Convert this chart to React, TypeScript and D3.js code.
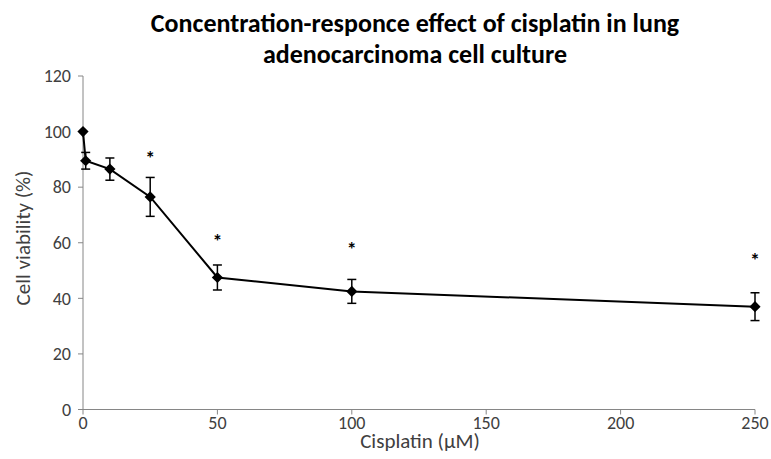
import React from "react";
import * as d3 from "d3";

const doses = [0, 1, 10, 25, 50, 100, 250];
const viability = [100, 89.5, 86.5, 76.5, 47.5, 42.5, 37];
const errors = [0, 3, 4, 7, 4.5, 4.3, 5];
const significant = [false, false, false, true, true, true, true];
const starValues = [0, 0, 0, 91.6, 61.7, 58.8, 55];
const xTicks = [0, 50, 100, 150, 200, 250];
const yTicks = [0, 20, 40, 60, 80, 100, 120];
const titleLines = ["Concentration-responce effect of cisplatin in lung", "adenocarcinoma cell culture"];

const W = 771, H = 459;
const margin = { left: 83, right: 16, top: 76, bottom: 49.5 };

export default function App() {
  const x = d3.scaleLinear().domain([0, 250]).range([margin.left, W - margin.right]);
  const y = d3.scaleLinear().domain([0, 120]).range([H - margin.bottom, margin.top]);
  const line = d3.line<number>().x((_, i) => x(doses[i])).y((v) => y(v));
  const font = "Carlito, 'Open Sans', 'Liberation Sans', sans-serif";
  const diamond = d3.symbol().type(d3.symbolDiamond2).size(80)() as string;
  return (
    <svg width={W} height={H} style={{ position: "absolute", left: 0, top: 0, background: "#fff" }} fontFamily={font}>
      {titleLines.map((t, i) => (
        <text key={i} x={415} y={32 + i * 31} textAnchor="middle" fontSize={26} fontWeight="bold" fill="#000">{t}</text>
      ))}
      <g stroke="#868686" strokeWidth={1}>
        <line x1={x(0)} x2={x(0)} y1={y(0)} y2={y(120)} />
        <line x1={x(0)} x2={x(250)} y1={y(0)} y2={y(0)} />
        {yTicks.map((t) => (
          <line key={t} x1={x(0) - 5} x2={x(0)} y1={y(t)} y2={y(t)} />
        ))}
        {xTicks.map((t) => (
          <line key={t} x1={x(t)} x2={x(t)} y1={y(0)} y2={y(0) + 5} />
        ))}
      </g>
      {yTicks.map((t) => (
        <text key={t} x={x(0) - 12} y={y(t)} dy="0.35em" textAnchor="end" fontSize={18} fill="#404040">{t}</text>
      ))}
      {xTicks.map((t) => (
        <text key={t} x={x(t)} y={y(0) + 19} textAnchor="middle" fontSize={18} fill="#404040">{t}</text>
      ))}
      <text x={420} y={448} textAnchor="middle" fontSize={21} fill="#404040">Cisplatin (µM)</text>
      <text transform={`translate(30,238) rotate(-90)`} textAnchor="middle" fontSize={21} fill="#404040">Cell viability (%)</text>
      <path d={line(viability) as string} fill="none" stroke="#000" strokeWidth={2} />
      {doses.map((d, i) => errors[i] > 0 ? (
        <g key={i} stroke="#000" strokeWidth={1.5}>
          <line x1={x(d)} x2={x(d)} y1={y(viability[i] - errors[i])} y2={y(viability[i] + errors[i])} />
          <line x1={x(d) - 4.5} x2={x(d) + 4.5} y1={y(viability[i] - errors[i])} y2={y(viability[i] - errors[i])} />
          <line x1={x(d) - 4.5} x2={x(d) + 4.5} y1={y(viability[i] + errors[i])} y2={y(viability[i] + errors[i])} />
        </g>
      ) : null)}
      {doses.map((d, i) => (
        <path key={i} d={diamond} transform={`translate(${x(d)},${y(viability[i])})`} fill="#000" />
      ))}
      {doses.map((d, i) => significant[i] ? (
        <text key={i} x={x(d)} y={y(starValues[i]) + 10} textAnchor="middle" fontSize={20} fontWeight="bold" fill="#000">*</text>
      ) : null)}
    </svg>
  );
}
